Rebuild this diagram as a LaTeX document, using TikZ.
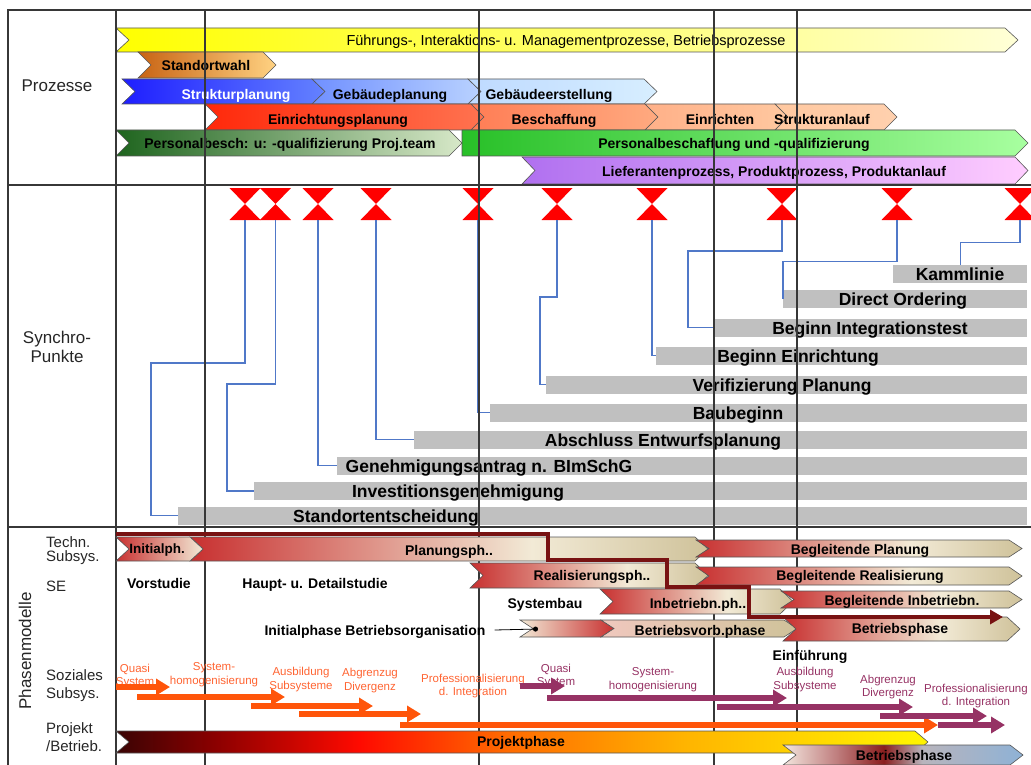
\documentclass[tikz,border=0pt]{standalone}
\usepackage{fontspec}
\setmainfont{Liberation Sans}
\usetikzlibrary{arrows.meta}

\definecolor{framec}{RGB}{55,55,55}
\definecolor{barline}{RGB}{85,85,85}
\definecolor{ylwA}{RGB}{255,255,0}
\definecolor{ylwB}{RGB}{255,255,215}
\definecolor{stdA}{RGB}{200,100,20}
\definecolor{stdB}{RGB}{255,210,130}
\definecolor{bluA}{RGB}{30,30,255}
\definecolor{bluB}{RGB}{100,130,255}
\definecolor{bluC}{RGB}{112,144,255}
\definecolor{bluD}{RGB}{185,210,255}
\definecolor{bluE}{RGB}{190,218,255}
\definecolor{bluF}{RGB}{215,238,255}
\definecolor{redA}{RGB}{255,40,10}
\definecolor{redB}{RGB}{255,115,80}
\definecolor{redC}{RGB}{255,125,85}
\definecolor{redD}{RGB}{255,170,128}
\definecolor{redE}{RGB}{255,176,136}
\definecolor{redF}{RGB}{255,200,160}
\definecolor{grnA}{RGB}{30,100,30}
\definecolor{grnB}{RGB}{215,232,200}
\definecolor{grnC}{RGB}{40,192,40}
\definecolor{grnD}{RGB}{168,255,160}
\definecolor{lilA}{RGB}{176,112,240}
\definecolor{lilB}{RGB}{255,205,255}
\definecolor{sgrey}{RGB}{192,192,192}
\definecolor{hgred}{RGB}{255,0,0}
\definecolor{syncblue}{RGB}{80,120,200}
\definecolor{phred}{RGB}{200,48,48}
\definecolor{phcream}{RGB}{242,234,214}
\definecolor{phtan}{RGB}{207,194,154}
\definecolor{phpink}{RGB}{240,200,190}
\definecolor{stairc}{RGB}{120,18,18}
\definecolor{sozor}{RGB}{255,85,10}
\definecolor{sozortxt}{RGB}{255,100,50}
\definecolor{sozpu}{RGB}{150,50,100}
\definecolor{pj1}{RGB}{58,4,4}
\definecolor{pj2}{RGB}{138,0,0}
\definecolor{pj3}{RGB}{255,10,0}
\definecolor{pj4}{RGB}{255,106,0}
\definecolor{pj5}{RGB}{255,180,0}
\definecolor{pj6}{RGB}{255,242,0}
\definecolor{bt1}{RGB}{244,230,222}
\definecolor{bt2}{RGB}{192,128,128}
\definecolor{bt3}{RGB}{139,30,30}
\definecolor{bt4}{RGB}{184,180,188}
\definecolor{bt5}{RGB}{142,178,214}

\pgfdeclarehorizontalshading{phase}{100bp}{color(0bp)=(phred); color(25bp)=(phred); color(58bp)=(phcream); color(75bp)=(phtan); color(100bp)=(phtan)}
\pgfdeclarehorizontalshading{projekt}{100bp}{color(0bp)=(pj1); color(25bp)=(pj1); color(31bp)=(pj2); color(40bp)=(pj3); color(49bp)=(pj4); color(60bp)=(pj5); color(74bp)=(pj6); color(100bp)=(pj6)}
\pgfdeclarehorizontalshading{betrieb}{100bp}{color(0bp)=(bt1); color(25bp)=(bt1); color(36bp)=(bt2); color(46bp)=(bt3); color(54bp)=(bt4); color(75bp)=(bt5); color(100bp)=(bt5)}

% chevron bar: [options]{left}{tip}{top}{bottom}
\newcommand{\chev}[5][]{%
  \path[#1] (#2,#4) -- ({#3-13},#4) -- (#3,{(#4+#5)/2}) -- ({#3-13},#5) -- (#2,#5) -- ({#2+13},{(#4+#5)/2}) -- cycle;}
\newcommand{\chevflat}[5][]{%
  \path[#1] (#2,#4) -- ({#3-13},#4) -- (#3,{(#4+#5)/2}) -- ({#3-13},#5) -- (#2,#5) -- cycle;}

\tikzset{
  frame/.style={draw=framec, line width=1.2pt},
  bar/.style={draw=barline, line width=0.6pt},
  ptxt/.style={font=\fontsize{14.5}{16}\selectfont, inner sep=0pt, anchor=base},
  btxt/.style={font=\fontsize{14}{16}\selectfont\bfseries, inner sep=0pt, anchor=base},
  stxt/.style={font=\fontsize{17.5}{20}\selectfont\bfseries, inner sep=0pt, anchor=base},
  ltxt/.style={font=\fontsize{17}{20}\selectfont, text=black!85, inner sep=0pt, anchor=base},
  subtxt/.style={font=\fontsize{15}{17}\selectfont, text=black!85, inner sep=0pt, anchor=base west},
  soztxt/.style={font=\fontsize{11.5}{13.5}\selectfont, align=center, inner sep=0pt},
  sbar/.style={fill=sgrey, minimum height=18pt, inner sep=0pt, anchor=west},
  hourglass/.style={minimum width=31pt, minimum height=32pt, inner sep=0pt,
    path picture={\fill[hgred] (path picture bounding box.north west) -- (path picture bounding box.north east)
      -- (path picture bounding box.south west) -- (path picture bounding box.south east) -- cycle;}},
  sync/.style={draw=syncblue, line width=1.2pt},
  sozarrow/.style={line width=6pt, -{Triangle[length=14pt,width=16pt]}},
  stair/.style={draw=stairc, line width=4pt, -{Triangle[length=13pt,width=14pt]}}
}

\begin{document}
\begin{tikzpicture}[x=1pt,y=1pt,yscale=-1]
\useasboundingbox (0,0) rectangle (1031,765);

%Shape: Process bars
\chev[bar, left color=ylwA, right color=ylwB]{116}{1018}{28}{52}
\chev[bar, left color=stdA, right color=stdB]{138}{276}{52}{78}
\chev[bar, left color=bluA, right color=bluB]{122}{325}{79}{104}
\chev[bar, left color=bluC, right color=bluD]{312}{481}{79}{104}
\chev[bar, left color=bluE, right color=bluF]{468}{657}{79}{104}
\chev[bar, left color=redA, right color=redB]{205}{484}{104}{130}
\chev[bar, left color=redC, right color=redD]{471}{658}{104}{130}
\chev[bar, left color=redE, right color=redF]{645}{788}{104}{130}
\chev[bar, left color=redF, right color=redF!85!white]{775}{897}{104}{130}
\chev[bar, left color=grnA, right color=grnB]{116}{462}{130}{156}
\chevflat[bar, left color=grnC, right color=grnD]{462}{1028}{130}{156}
\chev[bar, left color=lilA, right color=lilB]{522}{1028}{157}{184}

% Text Node
\node[ptxt] (fuehr) at (566,46) {Führungs-, Interaktions- u. Managementprozesse, Betriebsprozesse};
\node[btxt] (standortT) at (206,71) {Standortwahl};
\node[btxt, text=white] (strukT) at (236,100) {Strukturplanung};
\node[btxt] (gebplanT) at (390,100) {Gebäudeplanung};
\node[btxt] (gebersT) at (549,100) {Gebäudeerstellung};
\node[btxt] (einrplanT) at (338,125) {Einrichtungsplanung};
\node[btxt] (beschT) at (554,125) {Beschaffung};
\node[btxt] (einrichT) at (720,125) {Einrichten};
\node[btxt] (strukanT) at (822,125) {Strukturanlauf};
\node[btxt] (pers1T) at (290,149) {Personalbesch: u: -qualifizierung Proj.team};
\node[btxt] (pers2T) at (734,149) {Personalbeschaffung und -qualifizierung};
\node[btxt] (lieferT) at (774,176) {Lieferantenprozess, Produktprozess, Produktanlauf};

%Shape: Synchro bars
\node[sbar, minimum width=134pt] (kamm) at (893,274) {};
\node[sbar, minimum width=244pt] (direct) at (783,299) {};
\node[sbar, minimum width=312pt] (integ) at (715,327.5) {};
\node[sbar, minimum width=371pt] (einr) at (656,355.5) {};
\node[sbar, minimum width=481pt] (verif) at (546,384.5) {};
\node[sbar, minimum width=537pt] (baub) at (490,412.5) {};
\node[sbar, minimum width=613pt] (absch) at (414,439.5) {};
\node[sbar, minimum width=690pt] (genehm) at (337,465.5) {};
\node[sbar, minimum width=773pt] (invest) at (254,491) {};
\node[sbar, minimum width=849pt] (standort) at (178,515.5) {};

% Text Node
\node[stxt] (kammT) at (960,280) {Kammlinie};
\node[stxt] (directT) at (903,305) {Direct Ordering};
\node[stxt] (integT) at (870,334) {Beginn Integrationstest};
\node[stxt] (einrT) at (798,362) {Beginn Einrichtung};
\node[stxt] (verifT) at (782,391) {Verifizierung Planung};
\node[stxt] (baubT) at (738,419) {Baubeginn};
\node[stxt] (abschT) at (663,446) {Abschluss Entwurfsplanung};
\node[stxt] (genehmT) at (489,472) {Genehmigungsantrag n. BImSchG};
\node[stxt] (investT) at (458,497) {Investitionsgenehmigung};
\node[stxt] (standortT2) at (386,522) {Standortentscheidung};

%Shape: Synchro points
\node[hourglass] (m1) at (245,204) {};
\node[hourglass] (m2) at (275.5,204) {};
\node[hourglass] (m3) at (318,204) {};
\node[hourglass] (m4) at (376,204) {};
\node[hourglass] (m5) at (478,204) {};
\node[hourglass] (m6) at (557,204) {};
\node[hourglass] (m7) at (652,204) {};
\node[hourglass] (m8) at (782,204) {};
\node[hourglass] (m9) at (897,204) {};
\node[hourglass] (m10) at (1020,204) {};

%Straight Lines
\draw[sync] (m1.south) |- (151,363) |- (standort.west);
\draw[sync] (m2.south) |- (227,384) |- (invest.west);
\draw[sync] (m3.south) |- (genehm.west);
\draw[sync] (m4.south) |- (absch.west);
\draw[sync] (m5.south) |- (baub.west);
\draw[sync] (m6.south) |- (540,297) |- (verif.west);
\draw[sync] (m7.south) |- (einr.west);
\draw[sync] (m8.south) |- (688,251) |- (integ.west);
\draw[sync] (m9.south) -- ++(0,41) -| (direct.west);
\draw[sync] (m10.south) -- ++(0,22) -| (kamm.north);

%Straight Lines: frame and grid
\draw[frame] (8,765) -- (8,10) -- (1031,10);
\draw[frame] (8,185) -- (1031,185);
\draw[frame] (8,527) -- (1031,527);
\foreach \gx in {116,205,479,714,797}
  \draw[frame] (\gx,10) -- (\gx,765);

% Text Node: left column
\node[ltxt] (proz) at (57,91.5) {Prozesse};
\node[ltxt] (synchA) at (57,343) {Synchro-};
\node[ltxt] (synchB) at (57,362) {Punkte};
\node[ltxt, rotate=90, anchor=center] (phasen) at (25,651) {Phasenmodelle};
\node[subtxt] (technA) at (46,547) {Techn.};
\node[subtxt] (technB) at (46,561) {Subsys.};
\node[subtxt] (se) at (46,591) {SE};
\node[subtxt] (sozA) at (46,680) {Soziales};
\node[subtxt] (sozB) at (46,698) {Subsys.};
\node[subtxt] (projA) at (46,733) {Projekt};
\node[subtxt] (projB) at (46,751.5) {/Betrieb.};

%Shape: Phase bars
\chev[bar, shade, shading=phase]{190}{708}{537}{561}
\chev[bar, left color=phred, right color=phcream]{116}{203}{537}{561}
\chev[bar, shade, shading=phase]{696}{1022}{540}{557}
\chev[bar, shade, shading=phase]{470}{708}{563}{588}
\chev[bar, shade, shading=phase]{696}{1022}{567}{585}
\chev[bar, shade, shading=phase]{600}{793}{589}{614}
\chev[bar, shade, shading=phase]{781}{1022}{591}{608}
\chev[bar, left color=phcream, right color=phred]{520}{614}{620}{637}
\chev[bar, left color=phpink, right color=phtan]{601}{797}{620}{637}
\chev[bar, shade, shading=phase]{783}{1020}{617}{641}

\draw[stair] (116,534) -- (548,534) -- (548,560) -- (667,560) -- (667,587) -- (749,587) -- (749,617) -- (1003,617);

% Text Node
\node[btxt, font=\fontsize{13.5}{16}\selectfont\bfseries] (initT) at (157,553) {Initialph.};
\node[btxt] (planT) at (449,555) {Planungsph..};
\node[btxt] (bplanT) at (860,554) {Begleitende Planung};
\node[btxt] (realT) at (592,580) {Realisierungsph..};
\node[btxt] (brealT) at (860,580) {Begleitende Realisierung};
\node[btxt] (vorT) at (159,588) {Vorstudie};
\node[btxt] (hauptT) at (315,588) {Haupt- u. Detailstudie};
\node[btxt] (sysbauT) at (545,608) {Systembau};
\node[btxt] (inbT) at (698,608) {Inbetriebn.ph..};
\node[btxt] (binbT) at (902,605) {Begleitende Inbetriebn.};
\node[btxt] (ibo) at (375,635) {Initialphase Betriebsorganisation};
\node[btxt] (bvorbT) at (700,635) {Betriebsvorb.phase};
\node[btxt] (bphT) at (900,633) {Betriebsphase};
\node[btxt] (einfT) at (810,660) {Einführung};

\coordinate (iboend) at (538,629);
\draw[line width=0.8pt, -{Circle[length=5pt]}] ([xshift=9pt,yshift=-5pt]ibo.base east) -- (iboend);

% Text Node: social subsystem
\node[soztxt, text=sozortxt] (oq) at (135,676) {Quasi\\System};
\node[soztxt, text=sozortxt] (oh) at (214,674.5) {System-\\homogenisierung};
\node[soztxt, text=sozortxt] (oa) at (301,679.5) {Ausbildung\\Subsysteme};
\node[soztxt, text=sozortxt] (od) at (370,680.5) {Abgrenzug\\Divergenz};
\node[soztxt, text=sozortxt] (op) at (473,686) {Professionalisierung\\d. Integration};
\node[soztxt, text=sozpu] (pq) at (556,676) {Quasi\\System};
\node[soztxt, text=sozpu] (ph) at (653,679.5) {System-\\homogenisierung};
\node[soztxt, text=sozpu] (pa) at (805,679.5) {Ausbildung\\Subsysteme};
\node[soztxt, text=sozpu] (pd) at (888,687) {Abgrenzug\\Divergenz};
\node[soztxt, text=sozpu] (pp) at (976,696) {Professionalisierung\\d. Integration};

\foreach \xa/\xb/\yy in {116/170/687, 137/285/697, 251/373/706, 299/421/714, 400/938/725}
  \draw[sozarrow, sozor] (\xa,\yy) -- (\xb,\yy);
\foreach \xa/\xb/\yy in {520/565/686, 547/787/698, 717/913/707, 880/987/716, 938/1005/725}
  \draw[sozarrow, sozpu] (\xa,\yy) -- (\xb,\yy);

%Shape: Project / operation
\chev[bar, shade, shading=projekt]{116}{928}{731}{753}
\chev[bar, shade, shading=betrieb]{783}{1023}{745}{765}
\node[btxt] (projT) at (521,746) {Projektphase};
\node[btxt] (betrT) at (904,760) {Betriebsphase};

\end{tikzpicture}
\end{document}
